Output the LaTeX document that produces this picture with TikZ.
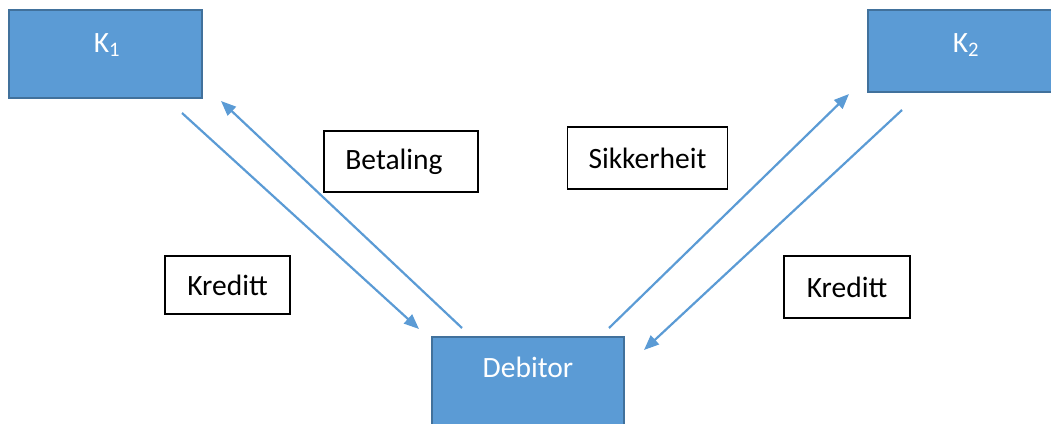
\documentclass[tikz,border=0pt]{standalone}
\usepackage{fontspec}
\setmainfont{Carlito}
\usetikzlibrary{arrows.meta}
\definecolor{boxfill}{HTML}{5B9BD5}
\definecolor{boxline}{HTML}{41719C}
\definecolor{arrowc}{HTML}{5B9BD5}
\tikzset{
  bluebox/.style={draw=boxline, fill=boxfill, line width=2pt, inner sep=0pt},
  whitetext/.style={text=white, font=\fontsize{29.5}{33}\selectfont, inner sep=0pt},
  labelbox/.style={draw=black, line width=1.1pt, fill=white, inner sep=0pt, font=\fontsize{29.5}{33}\selectfont},
  flow/.style={draw=arrowc, line width=2.2pt, -{Triangle[length=15pt,width=12pt]}}
}
\begin{document}
\begin{tikzpicture}[x=1pt,y=-1pt]
\useasboundingbox (0,0) rectangle (1051,423);
\clip (0,0) rectangle (1051,423);
% blue boxes
\node[bluebox, minimum width=193pt, minimum height=88pt] (k1) at (105.5,54) {};
\node[whitetext] (k1t) at (107,45) {K\textsubscript{1}};
\node[bluebox, minimum width=190pt, minimum height=82pt] (k2) at (963,51) {};
\node[whitetext] (k2t) at (966,45) {K\textsubscript{2}};
\node[bluebox, minimum width=192pt, minimum height=92pt] (deb) at (528,383) {};
\node[whitetext] (debt) at (528,367) {Debitor};
% label boxes
\node[labelbox, minimum width=154pt, minimum height=61pt] (bet) at (401,161.5) {\hspace*{-14pt}Betaling};
\node[labelbox, minimum width=125pt, minimum height=58pt] (kr1) at (227.5,285) {Kreditt};
\node[labelbox, minimum width=160pt, minimum height=62pt] (sik) at (647.5,158) {Sikkerheit};
\node[labelbox, minimum width=126pt, minimum height=62pt] (kr2) at (847,287) {Kreditt};
% arrow end points
\coordinate (a1s) at (182,113);
\coordinate (a1e) at (419,329);
\coordinate (a2s) at (462,328);
\coordinate (a2e) at (221,101);
\coordinate (a3s) at (609,328);
\coordinate (a3e) at (849,94);
\coordinate (a4s) at (902,110);
\coordinate (a4e) at (644,350);
\draw[flow] (a1s) -- (a1e);
\draw[flow] (a2s) -- (a2e);
\draw[flow] (a3s) -- (a3e);
\draw[flow] (a4s) -- (a4e);
\end{tikzpicture}
\end{document}
